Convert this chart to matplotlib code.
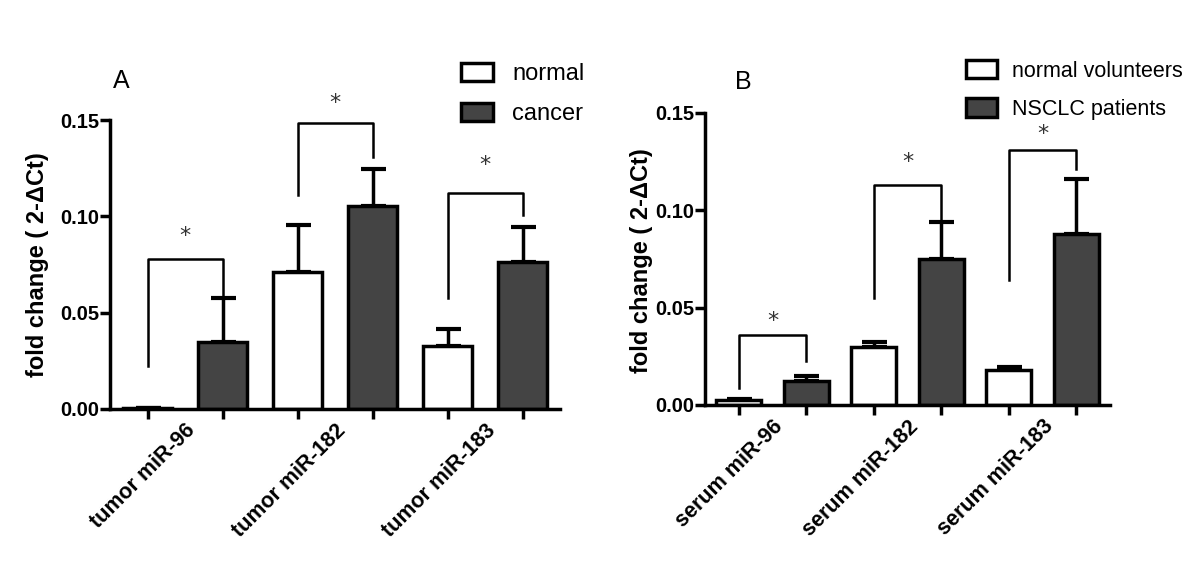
import matplotlib
matplotlib.use('Agg')
import matplotlib.pyplot as plt
from matplotlib.patches import Patch

plt.rcParams['font.family'] = ['Liberation Sans', 'DejaVu Sans']

# panel A (tumor tissue)
groups_a = ['tumor miR-96', 'tumor miR-182', 'tumor miR-183']
normal_a = [0.0005, 0.0709, 0.0328]
normal_a_err = [0.0, 0.0248, 0.0087]
cancer_a = [0.0347, 0.1056, 0.0764]
cancer_a_err = [0.0227, 0.0190, 0.0180]
brk_a_left = [0.0225, 0.111, 0.0575]
brk_a_top = [0.0778, 0.1486, 0.1123]
brk_a_right = [0.0574, 0.131, 0.1007]
star_a = [0.090, 0.159, 0.1267]

# panel B (serum)
groups_b = ['serum miR-96', 'serum miR-182', 'serum miR-183']
normal_b = [0.0024, 0.0299, 0.0179]
normal_b_err = [0.0005, 0.0026, 0.0014]
cancer_b = [0.0121, 0.0748, 0.0876]
cancer_b_err = [0.0030, 0.0192, 0.0284]
brk_b_left = [0.0085, 0.055, 0.064]
brk_b_top = [0.0359, 0.1128, 0.131]
brk_b_right = [0.0227, 0.094, 0.121]
star_b = [0.043, 0.125, 0.139]

yticks = [0.00, 0.05, 0.10, 0.15]
ylabel = 'fold change ( 2-\u0394Ct)'

DARK = '#444444'
LW = 2.5


def draw_panel(ax, groups, normal, normal_err, cancer, cancer_err,
               brk_left, brk_top, brk_right, stars, label_x, label_y):
    n = len(groups)
    xn = [2 * i + 0.5 for i in range(n)]
    xc = [2 * i + 1.5 for i in range(n)]
    w = 0.66
    ax.errorbar(xn, normal, yerr=[[0] * n, normal_err], fmt='none', ecolor='black',
                elinewidth=LW, capsize=9, capthick=3, zorder=1)
    ax.errorbar(xc, cancer, yerr=[[0] * n, cancer_err], fmt='none', ecolor='black',
                elinewidth=LW, capsize=9, capthick=3, zorder=1)
    ax.bar(xn, normal, width=w, color='white', edgecolor='black', linewidth=LW, zorder=2)
    ax.bar(xc, cancer, width=w, color=DARK, edgecolor='black', linewidth=LW, zorder=2)

    for i in range(n):
        ax.plot([xn[i], xn[i], xc[i], xc[i]],
                [brk_left[i], brk_top[i], brk_top[i], brk_right[i]],
                color='black', lw=1.8, clip_on=False, zorder=3)
        ax.text((xn[i] + xc[i]) / 2, stars[i], '*', ha='center', va='center',
                fontsize=16, color='#333333', family='DejaVu Sans', clip_on=False)

    ax.set_xlim(0, 2 * n)
    ax.set_ylim(0, 0.15)
    ax.set_yticks(yticks)
    ax.set_yticklabels(['%.2f' % t for t in yticks], fontsize=14.5, fontweight='bold')
    ax.set_xticks(xn + xc)
    ax.set_xticklabels([])
    ax.set_xticks([2 * i + 1 for i in range(n)], minor=True)
    ax.set_xticklabels(groups, minor=True, rotation=45, ha='right',
                       rotation_mode='anchor', fontsize=15.5, fontweight='bold')
    ax.tick_params(axis='x', which='minor', length=0, pad=8)
    ax.tick_params(axis='both', which='major', direction='out', length=7, width=LW)
    ax.tick_params(axis='y', pad=1)
    for s in ['top', 'right']:
        ax.spines[s].set_visible(False)
    for s in ['left', 'bottom']:
        ax.spines[s].set_linewidth(LW)
    ax.set_ylabel(ylabel, fontsize=17, fontweight='bold')
    ax.yaxis.set_label_coords(label_x, label_y)


fig = plt.figure(figsize=(12, 5.65), dpi=100)
ax_a = fig.add_axes([110 / 1200, 1 - 409 / 565, 450 / 1200, 289 / 565])
ax_b = fig.add_axes([705 / 1200, 1 - 405 / 565, 405 / 1200, 292 / 565])

draw_panel(ax_a, groups_a, normal_a, normal_a_err, cancer_a, cancer_a_err,
           brk_a_left, brk_a_top, brk_a_right, star_a, -0.135, 0.50)
draw_panel(ax_b, groups_b, normal_b, normal_b_err, cancer_b, cancer_b_err,
           brk_b_left, brk_b_top, brk_b_right, star_b, -0.128, 0.495)

fig.text(113 / 1200, 1 - 81 / 565, 'A', fontsize=18, va='center', ha='left')
fig.text(735 / 1200, 1 - 82 / 565, 'B', fontsize=18, va='center', ha='left')

handles = [Patch(facecolor='white', edgecolor='black', linewidth=LW),
           Patch(facecolor=DARK, edgecolor='black', linewidth=LW)]
fig.legend(handles, ['normal', 'cancer'], loc='upper left',
           bbox_to_anchor=(461 / 1200, 1 - 63 / 565), frameon=False, fontsize=17,
           borderpad=0, borderaxespad=0, handlelength=1.36, handleheight=0.8,
           handletextpad=0.8, labelspacing=0.75)
fig.legend(handles, ['normal volunteers', 'NSCLC patients'], loc='upper left',
           bbox_to_anchor=(966 / 1200, 1 - 60 / 565), frameon=False, fontsize=15.5,
           borderpad=0, borderaxespad=0, handlelength=1.45, handleheight=0.93,
           handletextpad=0.7, labelspacing=0.78)

fig.savefig('out.png', dpi=100)
